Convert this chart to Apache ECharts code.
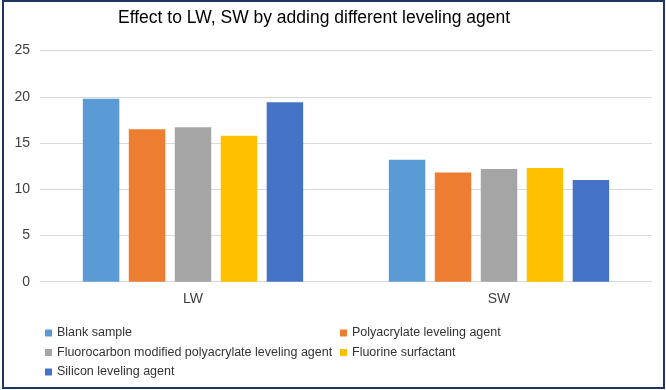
<!DOCTYPE html>
<html>
<head>
<meta charset="utf-8">
<script src="https://cdn.jsdelivr.net/npm/echarts@6/dist/echarts.min.js"></script>
<style>html,body{margin:0;padding:0;background:#fff}#c{width:666px;height:390px}</style>
</head>
<body>
<div id="c"></div>
<script>
const categories = ['LW', 'SW'];
const seriesNames = ['Blank sample', 'Polyacrylate leveling agent', 'Fluorocarbon modified polyacrylate leveling agent', 'Fluorine surfactant', 'Silicon leveling agent'];
const blankSample = [19.8, 13.2];
const polyacrylate = [16.5, 11.8];
const fluorocarbonModified = [16.7, 12.2];
const fluorineSurfactant = [15.8, 12.3];
const siliconAgent = [19.4, 11.0];
const yTicks = [0, 5, 10, 15, 20, 25];
const colors = ['#5B9BD5', '#ED7D31', '#A5A5A5', '#FFC000', '#4472C4'];
const values = [blankSample, polyacrylate, fluorocarbonModified, fluorineSurfactant, siliconAgent];

const chart = echarts.init(document.getElementById('c'), null, {renderer: 'canvas'});
const font = 'Liberation Sans, Arial, sans-serif';
const legendBase = {
  orient: 'vertical', top: 326, padding: 0, itemWidth: 7, itemHeight: 7, itemGap: 5.5,
  icon: 'rect', selectedMode: false,
  textStyle: {fontFamily: font, fontSize: 12.5, color: '#333333', lineHeight: 14, padding: [0,0,0,0]}
};
chart.setOption({
  animation: false,
  color: colors,
  title: {
    text: 'Effect to LW, SW by adding different leveling agent',
    left: 118, top: 9, padding: 0,
    textStyle: {fontFamily: font, fontSize: 17.5, fontWeight: 'normal', color: '#000'}
  },
  graphic: [{
    type: 'rect', shape: {x: 3, y: 1, width: 661, height: 387},
    style: {fill: 'none', stroke: '#1F3566', lineWidth: 2}, silent: true
  }],
  legend: [
    Object.assign({}, legendBase, {left: 45, data: [seriesNames[0], seriesNames[2], seriesNames[4]]}),
    Object.assign({}, legendBase, {left: 340, data: [seriesNames[1], seriesNames[3]]})
  ],
  grid: {left: 40, right: 14, top: 50.6, bottom: 108.3, containLabel: false},
  xAxis: {
    type: 'category', data: categories,
    axisLine: {lineStyle: {color: '#D9D9D9'}}, axisTick: {show: false},
    axisLabel: {fontFamily: font, fontSize: 14, color: '#404040', margin: 10}
  },
  yAxis: {
    type: 'value', min: yTicks[0], max: yTicks[yTicks.length - 1], interval: 5,
    axisLine: {show: false}, axisTick: {show: false},
    splitLine: {lineStyle: {color: '#D9D9D9'}},
    axisLabel: {fontFamily: font, fontSize: 14, color: '#404040', margin: 10}
  },
  series: seriesNames.map((n, i) => ({
    name: n, type: 'bar', data: values[i],
    barGap: '26%', barCategoryGap: '28%',
    itemStyle: {color: colors[i]}
  }))
});
</script>
</body>
</html>
